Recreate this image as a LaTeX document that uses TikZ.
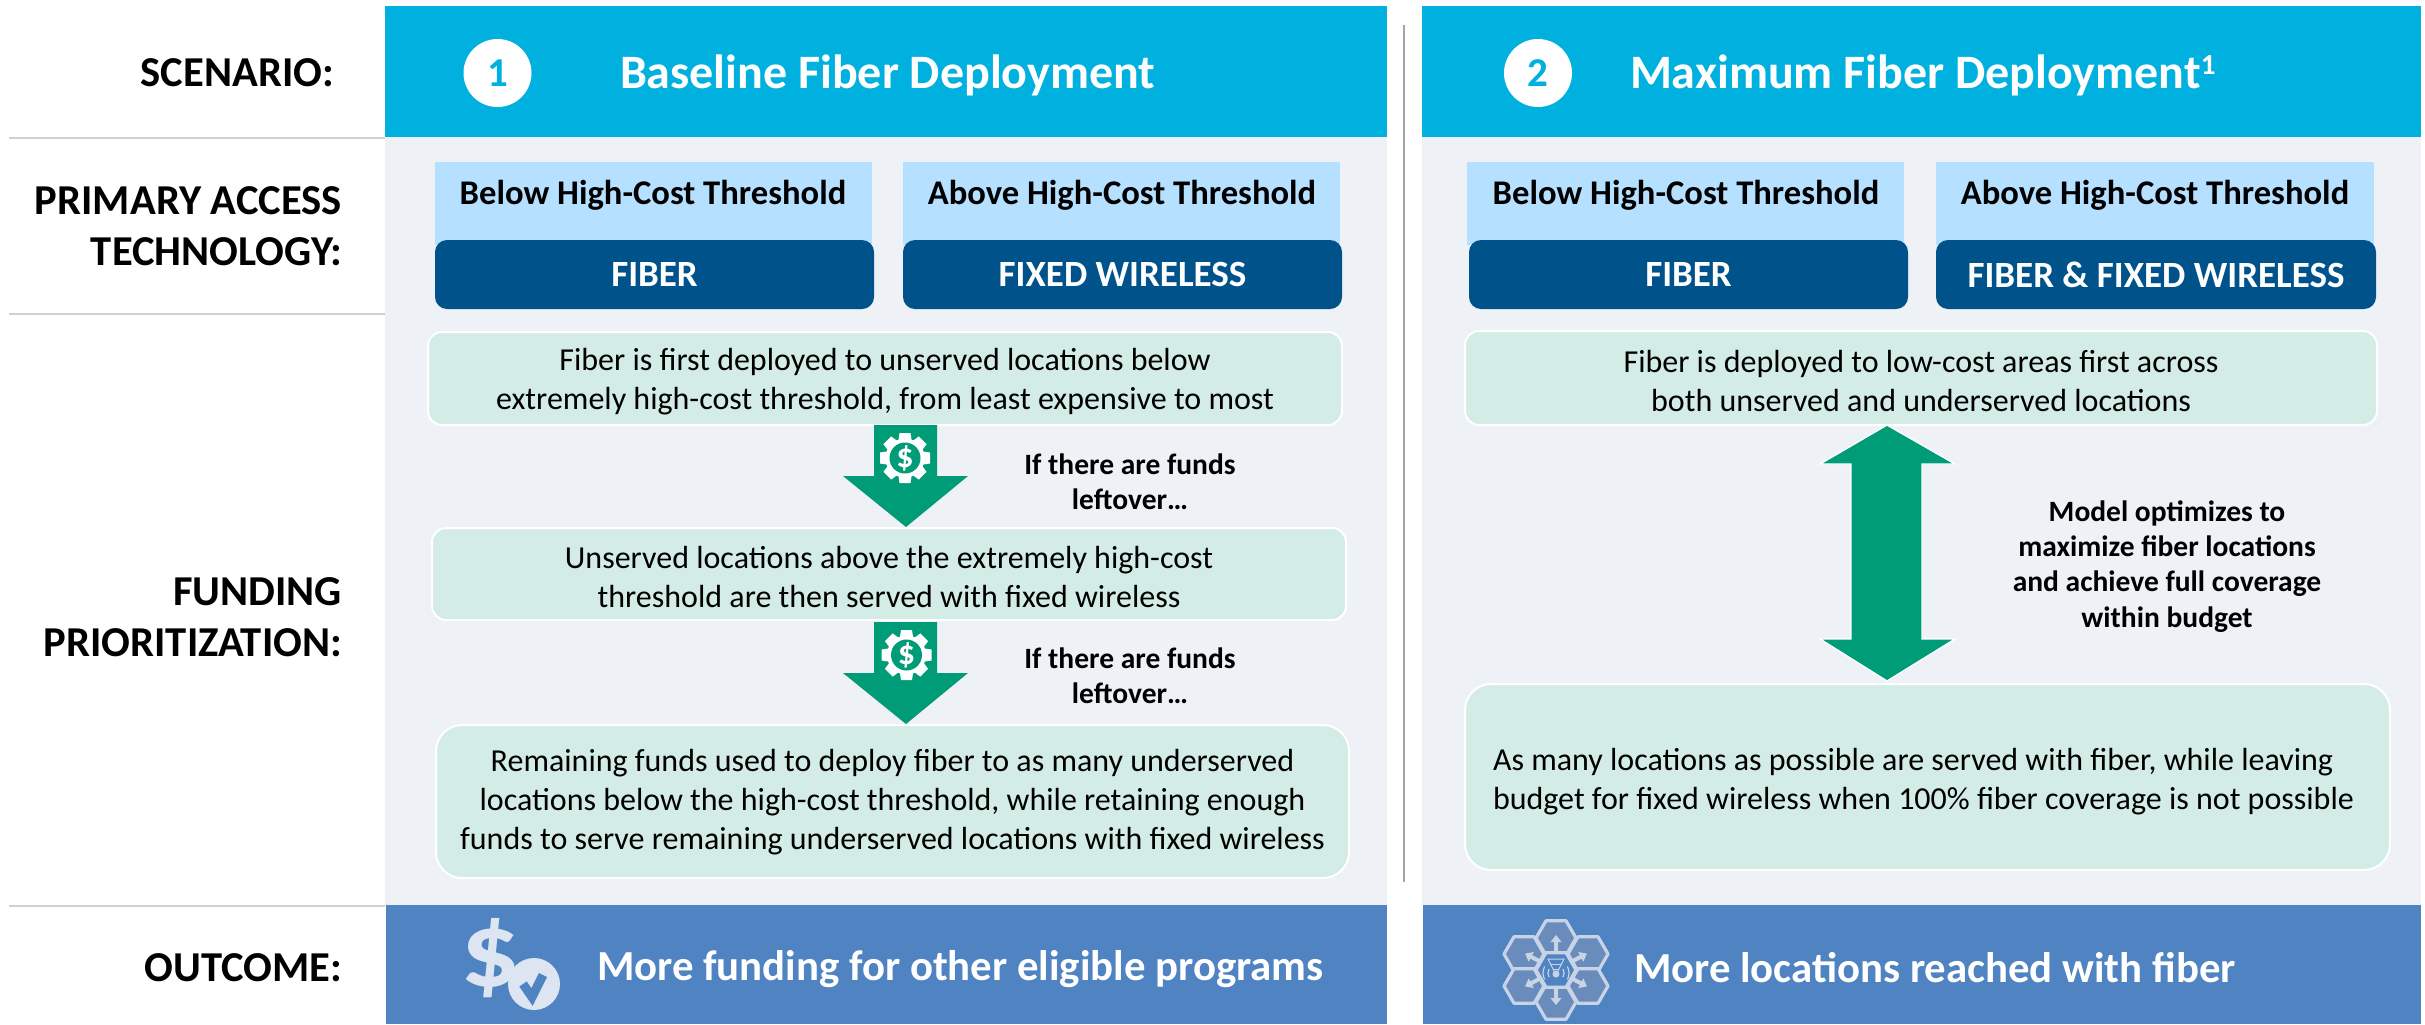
\documentclass[tikz,border=0pt]{standalone}
\usepackage{fontspec}
\setmainfont{Carlito}
\usetikzlibrary{calc}
\definecolor{hdr}{HTML}{00B0DE}
\definecolor{panelbg}{HTML}{EEF1F6}
\definecolor{lblue}{HTML}{B5E0FF}
\definecolor{dblue}{HTML}{00538A}
\definecolor{lgreen}{HTML}{D4ECE6}
\definecolor{agreen}{HTML}{009B77}
\definecolor{outc}{HTML}{4F83C2}
\definecolor{icon}{HTML}{DCE5F1}
\definecolor{hexl}{HTML}{C8D4E6}
\definecolor{hexf}{HTML}{6A8CBC}
\definecolor{rulec}{HTML}{CFCFCF}
\newcommand{\fbody}{\fontsize{16}{19.5}\selectfont}
\newcommand{\fbold}{\fontsize{14.75}{17.6}\selectfont\bfseries}
\newcommand{\flabel}{\fontsize{21.3}{25.5}\selectfont\bfseries}
\newcommand{\ftitle}{\fontsize{24}{28}\selectfont\bfseries}
\newcommand{\foutc}{\fontsize{21.4}{25}\selectfont\bfseries}
\newcommand{\fhead}{\fontsize{17.3}{20}\selectfont\bfseries}
\newcommand{\fdark}{\fontsize{18.5}{22}\selectfont\bfseries}
\newcommand{\dn}{\rule{0pt}{14.5pt}}
\newcommand{\dnsmall}{\rule{0pt}{12pt}}
% box from px corners: name, style, x1,y1,x2,y2, text
\newcommand{\boxat}[7]{%
  \pgfmathsetmacro{\bw}{(#5-#3)*0.5}\pgfmathsetmacro{\bh}{(#6-#4)*0.5}%
  \node[#2,minimum width=\bw pt,minimum height=\bh pt] (#1) at ({(#3+#5)/2},{(#4+#6)/2}) {#7};}
\newcommand{\gearicon}[1]{%
  \begin{scope}[shift={#1}]
    \foreach \a in {0,45,...,315}{\fill[white,rotate=\a] (-5.5,-25) -- (5.5,-25) -- (7,-15) -- (-7,-15) -- cycle;}
    \fill[white] (0,0) circle[radius=19.5];
    \fill[agreen] (0,0) circle[radius=15.5];
    \node[text=white,font=\fontsize{17}{17}\selectfont\bfseries,inner sep=0pt] at (0,0) {\$};
  \end{scope}}
\newcommand{\hexat}[3]{%
  \draw[hexl,line width=1.6pt,fill=#3,line join=round] ($(#1,#2)+(0:20)$) -- ($(#1,#2)+(60:20)$) -- ($(#1,#2)+(120:20)$) -- ($(#1,#2)+(180:20)$) -- ($(#1,#2)+(240:20)$) -- ($(#1,#2)+(300:20)$) -- cycle;}
\newcommand{\hexarrow}[1]{%
  \fill[hexl,rotate around={#1:(1556,970)}] (1554,951) -- (1558,951) -- (1558,942) -- (1561.5,942) -- (1556,935) -- (1550.5,942) -- (1554,942) -- cycle;}
\tikzset{
  x=0.5pt,y=-0.5pt,
  every node/.style={inner sep=0pt,outer sep=0pt},
  hdrbox/.style={fill=hdr,draw=none},
  panelbox/.style={fill=panelbg,draw=none},
  lightbox/.style={fill=lblue,draw=none},
  darkbox/.style={fill=dblue,draw=none,rounded corners=6pt,text=white,font=\fdark},
  greenbox/.style={fill=lgreen,draw=white,line width=1pt,rounded corners=7pt,align=center,font=\fbody},
  greenlarge/.style={greenbox,rounded corners=13pt},
  outbox/.style={fill=outc,draw=none},
  sidelabel/.style={anchor=east,align=right,font=\flabel},
  titletext/.style={text=white,anchor=west,font=\ftitle},
  outtext/.style={text=white,anchor=west,font=\foutc},
  numcircle/.style={circle,fill=white,minimum size=34pt,text=hdr,font=\fontsize{20.5}{20.5}\selectfont\bfseries},
  ltext/.style={font=\fhead},
  notetext/.style={align=center,font=\fbold},
  greenarrow/.style={fill=agreen,draw=none},
  rulestyle/.style={rulec,line width=1.2pt},
}
\begin{document}
\begin{tikzpicture}
\useasboundingbox (0,0) rectangle (2425,1024);
\fill[white] (0,0) rectangle (2425,1024);

% rules
\coordinate (r1a) at (9,138); \coordinate (r1b) at (385,138);
\coordinate (r2a) at (9,314); \coordinate (r2b) at (385,314);
\coordinate (r3a) at (9,906); \coordinate (r3b) at (385,906);
\draw[rulestyle] (r1a) -- (r1b);
\draw[rulestyle] (r2a) -- (r2b);
\draw[rulestyle] (r3a) -- (r3b);
\coordinate (vt) at (1404,25); \coordinate (vb) at (1404,882);
\draw[rulec!80!black,line width=1pt] (vt) -- (vb);

% panels
\boxat{pa}{panelbox}{385}{137}{1387}{905}{}
\boxat{pb}{panelbox}{1422}{137}{2421}{905}{}
\boxat{ha}{hdrbox}{385}{6}{1387}{137}{}
\boxat{hb}{hdrbox}{1422}{6}{2421}{137}{}
\boxat{oa}{outbox}{386}{905}{1387}{1024}{}
\boxat{ob}{outbox}{1423}{905}{2421}{1024}{}

% side labels
\node[sidelabel] (l1) at (334,73) {SCENARIO:};
\node[sidelabel] (l2) at (342,226) {PRIMARY ACCESS\\TECHNOLOGY:};
\node[sidelabel] (l3) at (342,617.5) {FUNDING\\PRIORITIZATION:};
\node[sidelabel] (l4) at (342,968) {OUTCOME:};

% titles
\node[numcircle] (c1) at (497.5,73) {1};
\node[numcircle] (c2) at (1538,73) {2};
\node[titletext] (t1) at (620,75) {Baseline Fiber Deployment};
\node[titletext] (t2) at (1630,75) {Maximum Fiber Deployment\raisebox{7pt}{\fontsize{14.5}{14.5}\selectfont 1}};

% threshold boxes
\boxat{la1}{lightbox}{435}{162}{872}{245}{}
\boxat{la2}{lightbox}{903}{162}{1340}{245}{}
\boxat{lb1}{lightbox}{1467}{162}{1904}{245}{}
\boxat{lb2}{lightbox}{1936}{162}{2374}{245}{}
\node[ltext] (ta1) at (653,195) {Below High-Cost Threshold};
\node[ltext] (ta2) at (1122,195) {Above High-Cost Threshold};
\node[ltext] (tb1) at (1686,195) {Below High-Cost Threshold};
\node[ltext] (tb2) at (2155,195) {Above High-Cost Threshold};
\boxat{da1}{darkbox}{435}{240}{874}{309}{FIBER}
\boxat{da2}{darkbox}{903}{240}{1342}{309}{FIXED WIRELESS}
\boxat{db1}{darkbox}{1469}{240}{1908}{309}{FIBER}
\boxat{db2}{darkbox}{1936}{240}{2376}{309}{FIBER \& FIXED WIRELESS}

% green boxes
\boxat{ga1}{greenbox}{428}{332}{1342}{425}{\dn Fiber is first deployed to unserved locations below\\extremely high-cost threshold, from least expensive to most}
\boxat{ga2}{greenbox}{432}{528}{1346}{620}{\dn Unserved locations above the extremely high-cost\\threshold are then served with fixed wireless}
\boxat{ga3}{greenlarge}{436}{725}{1349}{878}{\dnsmall Remaining funds used to deploy fiber to as many underserved\\locations below the high-cost threshold, while retaining enough\\funds to serve remaining underserved locations with fixed wireless}
\boxat{gb1}{greenbox}{1465}{331}{2377}{425}{\dn Fiber is deployed to low-cost areas first across\\both unserved and underserved locations}
\boxat{gb2}{greenlarge}{1465}{684}{2390}{870}{}
\node[anchor=west,align=left,font=\fbody] (gb2t) at (1493,781.5) {As many locations as possible are served with fiber, while leaving\\budget for fixed wireless when 100\% fiber coverage is not possible};

% down arrows
\fill[greenarrow] (874,425) -- (937,425) -- (937,476) -- (968,476) -- (906,527) -- (843,476) -- (874,476) -- cycle;
\fill[greenarrow] (874,622) -- (937,622) -- (937,673) -- (968,673) -- (906,724) -- (843,673) -- (874,673) -- cycle;
\gearicon{(905,458)}
\gearicon{(906.5,655)}
\node[notetext] (n1) at (1130,482) {If there are funds\\leftover…};
\node[notetext] (n2) at (1130,676) {If there are funds\\leftover…};

% double arrow
\filldraw[greenarrow,draw=white,line width=0.7pt] (1887,425) -- (1955,464) -- (1922,464) -- (1922,639) -- (1955,639) -- (1887,681) -- (1820,639) -- (1851,639) -- (1851,464) -- (1820,464) -- cycle;
\node[notetext] (n3) at (2167,566.5) {Model optimizes to\\maximize fiber locations\\and achieve full coverage\\within budget};

% outcomes
\node[outtext] (oat) at (597,969) {More funding for other eligible programs};
\node[outtext] (obt) at (1634,968) {More locations reached with fiber};

% dollar icon
\node[text=icon,font=\fontsize{53}{53}\selectfont\bfseries] (dollar) at (491,958) {\scalebox{1.12}[1]{\$}};
\fill[icon] (534,984) circle[radius=26];
\draw[outc,line width=4.5pt] (523,984) -- (532,997) -- (543,975);

% network icon
\hexat{1556}{938}{hexf}
\hexat{1556}{1002}{hexf}
\hexat{1588}{954}{hexf}
\hexat{1588}{986}{hexf}
\hexat{1524}{954}{hexf}
\hexat{1524}{986}{hexf}
\hexat{1556}{970}{outc}
\hexarrow{0}\hexarrow{62}\hexarrow{118}\hexarrow{180}\hexarrow{242}\hexarrow{298}
\draw[hexl,line width=0.5pt] (1548,959) -- (1564,959) -- (1556,975) -- cycle;
\draw[hexl,line width=0.5pt] (1551,964) -- (1561,964) (1553,969) -- (1559,969);
\draw[hexl,line width=0.6pt] (1549,977) arc[start angle=150,end angle=210,radius=8];
\draw[hexl,line width=0.6pt] (1563,977) arc[start angle=30,end angle=-30,radius=8];
\draw[hexl,line width=0.6pt] (1544.7,979.5) arc[start angle=150,end angle=210,radius=13];
\draw[hexl,line width=0.6pt] (1567.3,979.5) arc[start angle=30,end angle=-30,radius=13];
\fill[hexl] (1556,974) circle[radius=3.5];
\end{tikzpicture}
\end{document}
